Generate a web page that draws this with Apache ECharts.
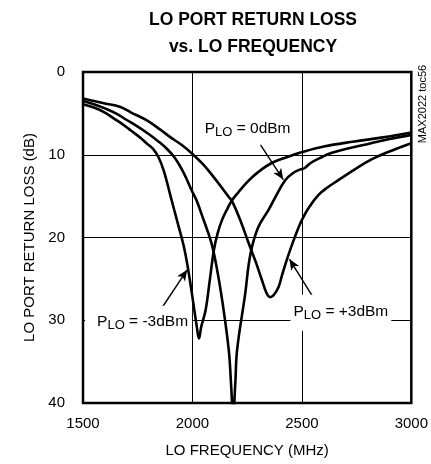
<!DOCTYPE html>
<html lang="en">
<head>
<meta charset="utf-8">
<title>LO Port Return Loss vs. LO Frequency</title>
<script src="https://cdn.jsdelivr.net/npm/echarts@6/dist/echarts.min.js"></script>
</head>
<body style="margin:0;">
<div id="main" style="width:431px;height:464px;"></div>
<script>
// values (MHz, dB)
const xTicks = [1500, 2000, 2500, 3000];
const yTicks = [0, 10, 20, 30, 40];

const m3Freq = [1500, 1550, 1600, 1640, 1680, 1720, 1760, 1790, 1820, 1845, 1870, 1900, 1930, 1960, 1980, 2000, 2020, 2030, 2040, 2060, 2080, 2098, 2115, 2135, 2160, 2181, 2211, 2250, 2300, 2362, 2430, 2498, 2600, 2740, 2870, 3000];
const m3Loss = [3.9, 4.3, 4.9, 5.6, 6.3, 7.1, 7.9, 8.6, 9.3, 10.3, 12.0, 15.0, 18.0, 21.0, 23.8, 27.2, 30.8, 32.2, 30.8, 28.8, 25.0, 21.5, 19.5, 17.9, 16.5, 15.5, 14.5, 13.3, 12.1, 11.0, 10.3, 9.7, 9.0, 8.4, 7.9, 7.3];

const z0Freq = [1500, 1550, 1600, 1650, 1700, 1750, 1800, 1840, 1880, 1920, 1960, 2000, 2020, 2050, 2085, 2110, 2136, 2166, 2176, 2186, 2196, 2204, 2240, 2265, 2300, 2347, 2377, 2423, 2460, 2491, 2513, 2540, 2590, 2634, 2700, 2816, 2900, 3000];
const z0Loss = [3.5, 3.9, 4.4, 5.0, 5.8, 6.6, 7.5, 8.3, 9.2, 10.4, 12.2, 14.5, 15.6, 17.8, 20.5, 23.5, 27.6, 33.6, 37.5, 41.5, 37.5, 33.6, 27.0, 22.0, 18.8, 16.7, 15.2, 13.1, 12.2, 11.8, 11.6, 11.0, 10.3, 9.8, 9.3, 8.6, 8.1, 7.6];

const p3Freq = [1500, 1550, 1600, 1668, 1720, 1788, 1850, 1900, 1950, 2000, 2050, 2100, 2166, 2181, 2220, 2257, 2290, 2317, 2340, 2355, 2370, 2393, 2410, 2431, 2460, 2483, 2500, 2529, 2574, 2620, 2665, 2740, 2816, 2900, 3000];
const p3Loss = [3.2, 3.5, 3.8, 4.2, 4.9, 5.8, 6.9, 7.9, 8.8, 9.9, 11.2, 12.8, 15.1, 15.6, 18.0, 20.7, 23.0, 25.1, 26.8, 27.2, 27.0, 26.0, 24.5, 22.7, 20.5, 18.9, 17.9, 16.5, 14.9, 13.9, 13.1, 11.8, 10.6, 9.6, 8.6];

const FONT = "'Liberation Sans', Arial, sans-serif";

function zip(xs, ys) {
    return xs.map((x, i) => [x, ys[i]]);
}

const rich = {
    p: {fontFamily: FONT, fontSize: 15.5, color: '#000', lineHeight: 18, verticalAlign: 'top'},
    s: {fontFamily: FONT, fontSize: 13, color: '#000', lineHeight: 10, verticalAlign: 'bottom'}
};

function tag(coord, txt, pad) {
    return {
        coord: coord,
        symbol: 'circle',
        symbolSize: 0,
        label: {
            show: true,
            position: 'inside',
            formatter: '{p|P}{s|LO}{p| = ' + txt + '}',
            rich: rich,
            backgroundColor: pad ? '#fff' : 'transparent',
            padding: pad || 0
        }
    };
}

function arrow(from, to) {
    return [{coord: from}, {coord: to}];
}

const lineStyle = {color: '#000', width: 2.6};

let myChart = echarts.init(document.getElementById('main'));
const option = {
    animation: false,
    title: {
        text: 'LO PORT RETURN LOSS\nvs. LO FREQUENCY',
        left: 248,
        top: 2,
        textAlign: 'center',
        textStyle: {fontFamily: FONT, fontSize: 17.5, fontWeight: 'bold', color: '#000', lineHeight: 27}
    },
    grid: {left: 83, right: 17, top: 72, bottom: 61, show: true, borderColor: '#000', borderWidth: 2.5, backgroundColor: 'transparent'},
    xAxis: {
        type: 'value',
        min: xTicks[0],
        max: xTicks[xTicks.length - 1],
        interval: 500,
        name: 'LO FREQUENCY (MHz)',
        nameLocation: 'middle',
        nameGap: 40,
        nameTextStyle: {fontFamily: FONT, fontSize: 15, color: '#000'},
        axisLine: {show: false},
        axisTick: {show: false},
        axisLabel: {fontFamily: FONT, fontSize: 15, color: '#000', margin: 13, formatter: v => String(v)},
        splitLine: {show: true, lineStyle: {color: '#000', width: 1}}
    },
    yAxis: {
        type: 'value',
        inverse: true,
        min: yTicks[0],
        max: yTicks[yTicks.length - 1],
        interval: 10,
        name: 'LO PORT RETURN LOSS (dB)',
        nameLocation: 'middle',
        nameGap: 45,
        nameTextStyle: {fontFamily: FONT, fontSize: 15, color: '#000'},
        axisLine: {show: false},
        axisTick: {show: false},
        axisLabel: {fontFamily: FONT, fontSize: 15, color: '#000', margin: 18, formatter: v => String(v)},
        splitLine: {show: true, lineStyle: {color: '#000', width: 1}}
    },
    graphic: [{
        type: 'text',
        x: 423,
        y: 104,
        rotation: Math.PI / 2,
        style: {text: 'MAX2022 toc56', fontFamily: FONT, fontSize: 11, fill: '#000', textAlign: 'center', textVerticalAlign: 'middle'}
    }],
    series: [{
        name: '-3dBm',
        type: 'line',
        data: zip(m3Freq, m3Loss),
        smooth: 0.4,
        showSymbol: false,
        lineStyle: lineStyle,
        z: 4
    }, {
        name: '0dBm',
        type: 'line',
        data: zip(z0Freq, z0Loss),
        smooth: 0.4,
        showSymbol: false,
        lineStyle: lineStyle,
        z: 4
    }, {
        name: '+3dBm',
        type: 'line',
        data: zip(p3Freq, p3Loss),
        smooth: 0.4,
        showSymbol: false,
        lineStyle: lineStyle,
        z: 4
    }, {
        name: 'notes',
        type: 'line',
        data: [],
        z: 2,
        markPoint: {
            silent: true,
            data: [
                tag([2252, 7.0], '0dBm'),
                tag([1754, 30.3], '-3dBm', [8, 4, 8, 12]),
                tag([2678, 29.1], '+3dBm', [9, 3, 9, 3])
            ]
        },
        markLine: {
            silent: true,
            symbol: ['none', 'arrow'],
            symbolSize: [7, 11],
            label: {show: false},
            lineStyle: {color: '#000', width: 1.4, type: 'solid'},
            data: [
                arrow([2311, 8.8], [2415, 13.0]),
                arrow([1863, 28.4], [1976, 23.9]),
                arrow([2551, 27.2], [2443, 22.6])
            ]
        }
    }]
};
myChart.setOption(option);
</script>
</body>
</html>
